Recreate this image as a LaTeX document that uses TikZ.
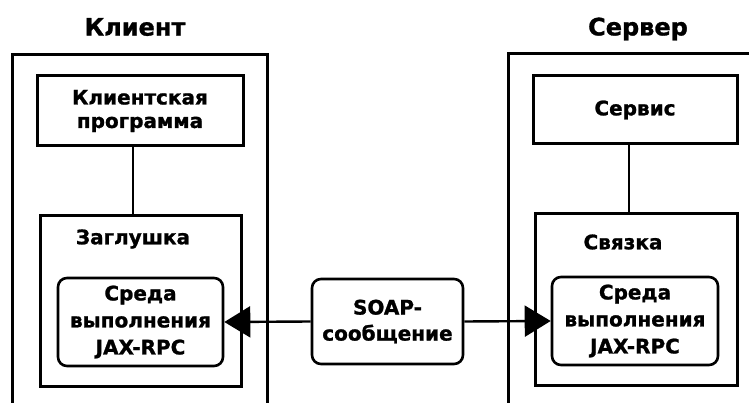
\documentclass[tikz,border=0pt]{standalone}
\usepackage{fontspec}
\setmainfont{DejaVu Sans}
\newfontfamily\heavy{DejaVu Sans Bold}[FakeBold=1.2]
\usetikzlibrary{arrows.meta}
\tikzset{
  frame/.style={line width=3pt},
  box/.style={draw, line width=3pt, inner sep=0pt},
  rbox/.style={draw, line width=2.6pt, rounded corners=9pt, inner sep=0pt, align=center, font=\heavy\fontsize{20}{27}\selectfont},
  txt/.style={inner sep=0pt, align=center, font=\heavy\fontsize{20}{23.5}\selectfont},
  title/.style={inner sep=0pt, font=\heavy\fontsize{24}{28}\selectfont},
  link/.style={line width=1.5pt},
  msg/.style={line width=2.4pt, -{Triangle[length=26pt,width=31pt]}},
}
\begin{document}
\begin{tikzpicture}[x=1pt,y=-1pt]
\clip (0,0) rectangle (749,403);
\fill[white] (0,0) rectangle (749,403);

% client and server frames (open at the bottom)
\draw[frame] (12,420) -- (12,55) -- (267,55) -- (267,420);
\draw[frame] (508,420) -- (508,54) -- (770,54);

\node[title] (tclient) at (135,27) {Клиент};
\node[title] (tserver) at (638,29) {Сервер};

% client side
\node[box, minimum width=206pt, minimum height=70pt, txt] (cprog) at (140,111) {Клиентская\\программа};
\node[box, minimum width=201pt, minimum height=170pt] (stub) at (140.5,301) {};
\node[txt] (stublbl) at (133,239) {Заглушка};
\node[rbox, minimum width=165pt, minimum height=88pt] (rtl) at (140.5,322) {Среда\\выполнения\\JAX-RPC};

% server side
\node[box, minimum width=204pt, minimum height=68pt, txt] (svc) at (635,110) {Сервис};
\node[box, minimum width=202pt, minimum height=171pt] (bind) at (636,299.5) {};
\node[txt] (bindlbl) at (623,242) {Связка};
\node[rbox, minimum width=166pt, minimum height=88pt] (rtr) at (635,321) {Среда\\выполнения\\JAX-RPC};

% message
\node[rbox, minimum width=151pt, minimum height=85pt, font=\heavy\fontsize{20}{26}\selectfont] (soap) at (387.5,321.5) {SOAP-\\сообщение};

% connectors
\coordinate (lx) at (133,0);
\coordinate (rx) at (629,0);
\draw[link] (cprog.south -| lx) -- (stub.north -| lx);
\draw[link] (svc.south -| rx) -- (bind.north -| rx);
\draw[msg] (soap.west) -- (rtl.east);
\draw[msg] (soap.east) -- (rtr.west);
\end{tikzpicture}
\end{document}
